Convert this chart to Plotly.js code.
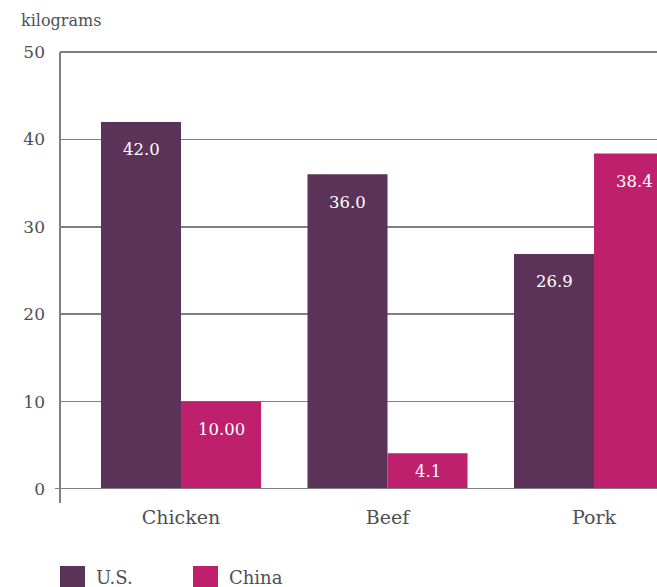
<!DOCTYPE html>
<html>
<head>
<meta charset="utf-8">
<script src="https://cdn.plot.ly/plotly-3.0.1.min.js"></script>
<style>html,body{margin:0;padding:0;overflow:hidden;background:#fff;}</style>
</head>
<body>
<div id="chart" style="width:657px;height:587px;"></div>
<script>
const categories = ["Chicken", "Beef", "Pork"];
const usValues = [42.0, 36.0, 26.9];
const chinaValues = [10.0, 4.1, 38.4];
const usLabels = ["42.0", "36.0", "26.9"];
const chinaLabels = ["10.00", "4.1", "38.4"];
const seriesNames = ["U.S.", "China"];
const yTicks = [0, 10, 20, 30, 40, 50];

const US_COLOR = "#5b3359";
const CN_COLOR = "#be206e";
const FONT = "DejaVu Serif";
const TEXT_COLOR = "#4f4f55";

const W = 657, H = 587;
const M = {l: 60, r: 0, t: 52, b: 98};
const plotW = W - M.l - M.r;
const plotH = H - M.t - M.b;
const bottomPx = H - M.b;
const bargap = 0.225;
const barW = (1 - bargap) / 2;
const pxPerUnit = plotH / 50;
const px = x => (x - M.l) / plotW;
const py = y => (bottomPx - y) / plotH;

const traces = [
  {type: "bar", name: seriesNames[0], x: categories, y: usValues,
   marker: {color: US_COLOR}, showlegend: false, hoverinfo: "skip"},
  {type: "bar", name: seriesNames[1], x: categories, y: chinaValues,
   marker: {color: CN_COLOR}, showlegend: false, hoverinfo: "skip"}
];

const annotations = [];
function addLabels(vals, labels, offset) {
  vals.forEach((v, i) => {
    const h = v * pxPerUnit;
    annotations.push({
      x: i + offset, y: v, xref: "x", yref: "y",
      text: labels[i], showarrow: false, yanchor: "middle",
      yshift: -Math.min(28, h / 2),
      font: {family: FONT, size: 16.5, color: "#ffffff"}
    });
  });
}
addLabels(usValues, usLabels, -barW / 2);
addLabels(chinaValues, chinaLabels, barW / 2);

annotations.push({x: px(19), y: py(20), xref: "paper", yref: "paper", xanchor: "left", yanchor: "middle",
  text: "kilograms", showarrow: false,
  font: {family: FONT, size: 16, color: TEXT_COLOR}});

const shapes = [
  {type: "line", xref: "paper", yref: "paper", x0: 0, x1: 1, y0: 1, y1: 1, line: {color: "#808080", width: 2}},
  {type: "line", xref: "paper", yref: "paper", x0: 0, x1: 0, y0: py(503), y1: 1, line: {color: "#808080", width: 2}},
  {type: "line", xref: "paper", yref: "y", x0: px(55), x1: 1, y0: 0, y1: 0, line: {color: "#808080", width: 2}}
];
const legendColors = [US_COLOR, CN_COLOR];
const legendX = [60, 193];
seriesNames.forEach((n, k) => {
  shapes.push({type: "rect", xref: "paper", yref: "paper",
    x0: px(legendX[k]), x1: px(legendX[k] + 25), y0: py(566), y1: py(595),
    fillcolor: legendColors[k], line: {width: 0}});
  annotations.push({xref: "paper", yref: "paper", x: px(legendX[k] + 34), y: py(577),
    xanchor: "left", yanchor: "middle", text: n, showarrow: false,
    font: {family: FONT, size: 18, color: TEXT_COLOR}});
});

const layout = {
  width: W, height: H,
  margin: {l: M.l, r: M.r, t: M.t, b: M.b, pad: 0},
  paper_bgcolor: "#ffffff", plot_bgcolor: "#ffffff",
  barmode: "group", bargap: bargap, bargroupgap: 0,
  xaxis: {
    type: "category", range: [-0.586, 2.305],
    showgrid: false, showline: false, zeroline: false, ticks: "",
    tickfont: {family: FONT, size: 19, color: TEXT_COLOR},
    ticklabelstandoff: 15
  },
  yaxis: {
    range: [0, 50], tickvals: yTicks, ticktext: yTicks.map(String),
    showgrid: true, gridcolor: "#808080", gridwidth: 1.5,
    zeroline: false, showline: false, ticks: "",
    tickfont: {family: FONT, size: 17, color: TEXT_COLOR},
    ticklabelstandoff: 14
  },
  shapes: shapes,
  annotations: annotations,
  showlegend: false
};

Plotly.newPlot("chart", traces, layout, {displayModeBar: false, staticPlot: true});
</script>
</body>
</html>
